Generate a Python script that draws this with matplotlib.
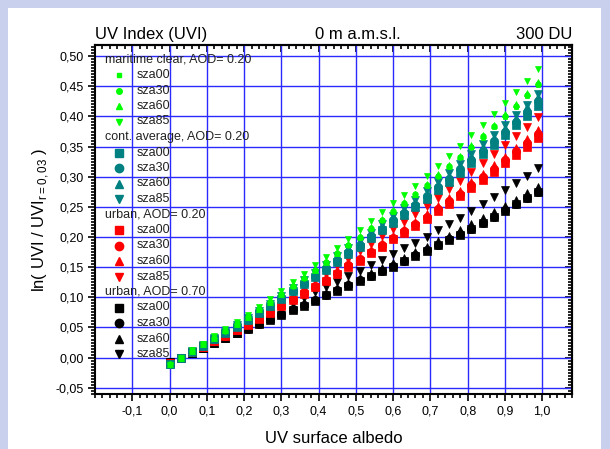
import matplotlib
matplotlib.use("Agg")
import matplotlib.pyplot as plt
from matplotlib.patches import Rectangle
from matplotlib.ticker import MultipleLocator, FixedLocator, FuncFormatter

plt.rcParams['font.family'] = ['Liberation Sans', 'DejaVu Sans']
plt.rcParams['mathtext.fontset'] = 'custom'
plt.rcParams['mathtext.rm'] = 'Liberation Sans'

# surface albedo grid
albedo = [round(0.03 * i, 2) for i in range(34)]

# ln(UVI / UVI(r=0.03)) -- maritime clear, AOD 0.20
mar_sza00 = [-0.011, 0.000, 0.011, 0.022, 0.033, 0.044, 0.056, 0.067, 0.080, 0.092, 0.105, 0.118, 0.132, 0.145, 0.158, 0.172, 0.186,
             0.199, 0.214, 0.228, 0.242, 0.255, 0.269, 0.285, 0.301, 0.316, 0.332, 0.349, 0.365, 0.382, 0.399, 0.416, 0.434, 0.452]
mar_sza30 = [-0.011, 0.000, 0.011, 0.022, 0.033, 0.044, 0.056, 0.068, 0.080, 0.092, 0.105, 0.119, 0.132, 0.145, 0.158, 0.173, 0.187,
             0.200, 0.215, 0.229, 0.243, 0.257, 0.271, 0.286, 0.302, 0.317, 0.333, 0.350, 0.367, 0.384, 0.401, 0.418, 0.436, 0.454]
mar_sza60 = [-0.011, 0.000, 0.011, 0.022, 0.033, 0.045, 0.056, 0.068, 0.080, 0.093, 0.106, 0.120, 0.133, 0.146, 0.159, 0.174, 0.188,
             0.202, 0.216, 0.230, 0.245, 0.258, 0.272, 0.288, 0.304, 0.319, 0.335, 0.353, 0.369, 0.386, 0.404, 0.421, 0.439, 0.457]
mar_sza85 = [-0.012, 0.000, 0.012, 0.023, 0.035, 0.047, 0.059, 0.071, 0.084, 0.097, 0.111, 0.125, 0.139, 0.153, 0.167, 0.182, 0.197,
             0.211, 0.226, 0.241, 0.256, 0.270, 0.285, 0.301, 0.318, 0.334, 0.351, 0.369, 0.386, 0.404, 0.422, 0.440, 0.459, 0.478]

# continental average, AOD 0.20
con_sza00 = [-0.010, 0.000, 0.010, 0.020, 0.031, 0.041, 0.051, 0.062, 0.074, 0.085, 0.097, 0.110, 0.122, 0.134, 0.146, 0.159, 0.172,
             0.184, 0.198, 0.211, 0.224, 0.236, 0.249, 0.263, 0.278, 0.292, 0.307, 0.323, 0.338, 0.353, 0.369, 0.385, 0.401, 0.418]
con_sza30 = [-0.011, 0.000, 0.011, 0.020, 0.031, 0.042, 0.052, 0.063, 0.075, 0.086, 0.099, 0.111, 0.124, 0.136, 0.148, 0.162, 0.175,
             0.187, 0.201, 0.214, 0.228, 0.240, 0.253, 0.268, 0.283, 0.297, 0.312, 0.328, 0.343, 0.359, 0.375, 0.391, 0.408, 0.425]
con_sza60 = [-0.011, 0.000, 0.011, 0.021, 0.032, 0.042, 0.053, 0.064, 0.076, 0.088, 0.100, 0.113, 0.126, 0.138, 0.151, 0.165, 0.178,
             0.191, 0.204, 0.218, 0.232, 0.244, 0.257, 0.272, 0.287, 0.302, 0.317, 0.334, 0.349, 0.365, 0.381, 0.398, 0.415, 0.432]
con_sza85 = [-0.011, 0.000, 0.011, 0.021, 0.032, 0.043, 0.054, 0.066, 0.077, 0.089, 0.102, 0.115, 0.128, 0.141, 0.154, 0.168, 0.181,
             0.194, 0.207, 0.221, 0.235, 0.248, 0.261, 0.276, 0.291, 0.306, 0.321, 0.338, 0.354, 0.370, 0.386, 0.402, 0.419, 0.437]

# urban, AOD 0.20
u20_sza00 = [-0.009, 0.000, 0.009, 0.018, 0.027, 0.036, 0.045, 0.054, 0.064, 0.074, 0.085, 0.096, 0.106, 0.117, 0.127, 0.139, 0.150,
             0.161, 0.173, 0.184, 0.196, 0.206, 0.218, 0.230, 0.243, 0.255, 0.268, 0.282, 0.295, 0.308, 0.322, 0.336, 0.350, 0.365]
u20_sza30 = [-0.009, 0.000, 0.009, 0.018, 0.027, 0.036, 0.046, 0.055, 0.065, 0.075, 0.086, 0.097, 0.108, 0.119, 0.129, 0.141, 0.153,
             0.164, 0.175, 0.187, 0.199, 0.210, 0.221, 0.234, 0.247, 0.259, 0.272, 0.286, 0.300, 0.313, 0.328, 0.342, 0.356, 0.371]
u20_sza60 = [-0.009, 0.000, 0.009, 0.018, 0.028, 0.037, 0.046, 0.056, 0.066, 0.077, 0.087, 0.099, 0.110, 0.121, 0.132, 0.144, 0.155,
             0.166, 0.178, 0.190, 0.202, 0.213, 0.225, 0.238, 0.251, 0.264, 0.277, 0.291, 0.305, 0.319, 0.333, 0.347, 0.362, 0.377]
u20_sza85 = [-0.010, 0.000, 0.010, 0.019, 0.029, 0.039, 0.049, 0.059, 0.070, 0.081, 0.093, 0.105, 0.116, 0.128, 0.139, 0.152, 0.164,
             0.176, 0.189, 0.201, 0.214, 0.225, 0.238, 0.251, 0.265, 0.279, 0.293, 0.308, 0.322, 0.337, 0.352, 0.367, 0.383, 0.399]

# urban, AOD 0.70
u70_sza00 = [-0.008, 0.000, 0.008, 0.016, 0.024, 0.032, 0.040, 0.047, 0.055, 0.063, 0.071, 0.079, 0.086, 0.094, 0.103, 0.111, 0.119,
             0.127, 0.135, 0.143, 0.151, 0.160, 0.169, 0.177, 0.186, 0.195, 0.204, 0.213, 0.223, 0.233, 0.243, 0.254, 0.264, 0.274]
u70_sza30 = [-0.008, 0.000, 0.008, 0.016, 0.024, 0.032, 0.040, 0.048, 0.056, 0.064, 0.072, 0.080, 0.087, 0.095, 0.104, 0.112, 0.120,
             0.128, 0.136, 0.144, 0.152, 0.161, 0.170, 0.178, 0.187, 0.196, 0.205, 0.214, 0.224, 0.234, 0.244, 0.255, 0.265, 0.275]
u70_sza60 = [-0.008, 0.000, 0.008, 0.016, 0.025, 0.033, 0.041, 0.049, 0.058, 0.066, 0.074, 0.082, 0.090, 0.098, 0.107, 0.115, 0.124,
             0.132, 0.140, 0.149, 0.157, 0.166, 0.175, 0.184, 0.193, 0.202, 0.212, 0.221, 0.231, 0.241, 0.252, 0.262, 0.273, 0.283]
u70_sza85 = [-0.009, 0.000, 0.009, 0.018, 0.027, 0.036, 0.045, 0.054, 0.063, 0.072, 0.081, 0.090, 0.099, 0.108, 0.117, 0.126, 0.135,
             0.144, 0.153, 0.162, 0.172, 0.181, 0.190, 0.200, 0.211, 0.221, 0.232, 0.243, 0.255, 0.267, 0.278, 0.289, 0.301, 0.314]

group_titles = ["maritime clear, AOD= 0.20", "cont. average, AOD= 0.20", "urban, AOD= 0.20", "urban, AOD= 0.70"]
group_colors = ["#00ff00", "#008080", "#ff0000", "#000000"]
group_sizes = [4.0, 6.0, 6.0, 6.0]
sza_labels = ["sza00", "sza30", "sza60", "sza85"]
sza_markers = ["s", "o", "^", "v"]
sza_scale = [0.85, 1.0, 1.0, 1.0]
series = [
    [mar_sza00, mar_sza30, mar_sza60, mar_sza85],
    [con_sza00, con_sza30, con_sza60, con_sza85],
    [u20_sza00, u20_sza30, u20_sza60, u20_sza85],
    [u70_sza00, u70_sza30, u70_sza60, u70_sza85],
]

W, H = 610, 449
fig = plt.figure(figsize=(W / 100, H / 100), dpi=100)
fig.patch.set_facecolor('#c8d0ee')
fig.add_artist(Rectangle((8 / W, 0), (601 - 8) / W, (H - 8) / H, transform=fig.transFigure,
                         facecolor='white', edgecolor='none', zorder=-10))

ax_l, ax_r, ax_t, ax_b = 95, 572, 45, 394
ax = fig.add_axes([ax_l / W, 1 - ax_b / H, (ax_r - ax_l) / W, (ax_b - ax_t) / H])
ax.set_xlim(-0.2, 1.08)
ax.set_ylim(-0.0604, 0.5185)

xmaj = [round(-0.1 + 0.1 * i, 1) for i in range(12)]
ymaj = [round(-0.05 + 0.05 * i, 2) for i in range(12)]
ax.xaxis.set_major_locator(FixedLocator(xmaj))
ax.yaxis.set_major_locator(FixedLocator(ymaj))
ax.xaxis.set_minor_locator(MultipleLocator(0.02))
ax.yaxis.set_minor_locator(MultipleLocator(0.005))
ax.xaxis.set_major_formatter(FuncFormatter(lambda v, p: f"{v:.1f}".replace('.', ',')))
ax.yaxis.set_major_formatter(FuncFormatter(lambda v, p: f"{v:.2f}".replace('.', ',')))
ax.tick_params(which='both', direction='out', width=1.2, labelsize=9, colors='black')
ax.tick_params(which='major', length=5, pad=3)
ax.tick_params(which='minor', length=3)

# inward ticks on the top and right frame
top = ax.secondary_xaxis('top')
top.xaxis.set_major_locator(FixedLocator(xmaj))
top.xaxis.set_minor_locator(MultipleLocator(0.02))
top.tick_params(which='both', direction='in', width=1.2, labeltop=False)
top.tick_params(which='major', length=5)
top.tick_params(which='minor', length=3)
right = ax.secondary_yaxis('right')
right.yaxis.set_major_locator(FixedLocator(ymaj))
right.yaxis.set_minor_locator(MultipleLocator(0.005))
right.tick_params(which='both', direction='in', width=1.2, labelright=False)
right.tick_params(which='major', length=5)
right.tick_params(which='minor', length=3)
for sp in list(ax.spines.values()) + [top.spines['top'], right.spines['right']]:
    sp.set_linewidth(1.5)

ax.grid(True, which='major', color='#2a2aff', linewidth=1.0)
ax.set_axisbelow(True)

# heavy aerosol first, maritime clear ends up on top
for vals_group, col, ms in reversed(list(zip(series, group_colors, group_sizes))):
    for vals, mk, sc in zip(vals_group, sza_markers, sza_scale):
        ax.plot(albedo, vals, linestyle='none', marker=mk, markersize=ms * sc,
                color=col, markeredgecolor=col, markeredgewidth=0.5, zorder=3)

# legend block in the upper-left corner
row_h = 15.5 / (ax_b - ax_t)
y0 = 1 - (59.5 - ax_t) / (ax_b - ax_t)
tx = (105 - ax_l) / (ax_r - ax_l)
mx = (119 - ax_l) / (ax_r - ax_l)
lx = (137 - ax_l) / (ax_r - ax_l)
row = 0
for title, col, ms in zip(group_titles, group_colors, group_sizes):
    ax.text(tx, y0 - row * row_h, title, transform=ax.transAxes, fontsize=9,
            va='center', ha='left', color='#222222', zorder=5)
    row += 1
    for lab, mk, sc in zip(sza_labels, sza_markers, sza_scale):
        ax.plot([mx], [y0 - row * row_h], transform=ax.transAxes, linestyle='none',
                marker=mk, markersize=ms * sc, color=col, markeredgecolor=col, zorder=5)
        ax.text(lx, y0 - row * row_h, lab, transform=ax.transAxes, fontsize=9,
                va='center', ha='left', color='#222222', zorder=5)
        row += 1

ax.text(0, 1.008, "UV Index (UVI)", transform=ax.transAxes, fontsize=12, ha='left', va='bottom')
ax.text(0.55, 1.008, "0 m a.m.s.l.", transform=ax.transAxes, fontsize=12, ha='center', va='bottom')
ax.text(1, 1.008, "300 DU", transform=ax.transAxes, fontsize=12, ha='right', va='bottom')

ax.set_xlabel("UV surface albedo", fontsize=12, labelpad=10)
ax.set_ylabel("ln( UVI / UVI$_{\\mathregular{r=0,03}}$ )", fontsize=12, labelpad=3)

fig.savefig("out.png", dpi=100, facecolor=fig.get_facecolor())
